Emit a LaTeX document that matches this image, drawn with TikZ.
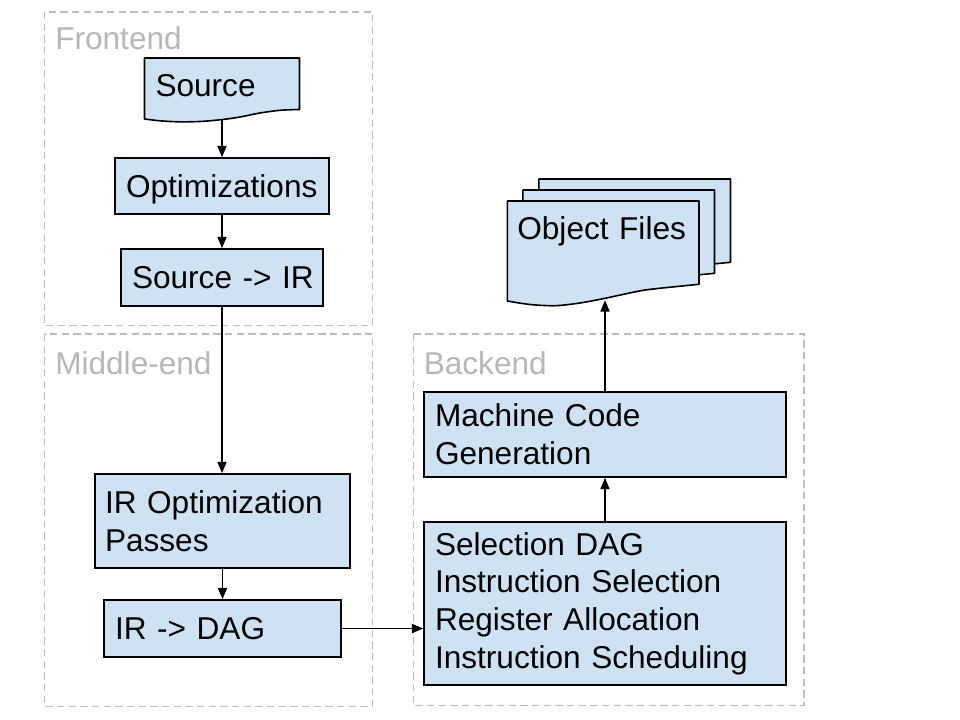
\documentclass[tikz,border=0pt]{standalone}
\usepackage{fontspec}
\setmainfont{Liberation Sans}
\usetikzlibrary{arrows.meta,backgrounds}
\definecolor{boxblue}{HTML}{CFE2F3}
\definecolor{framegray}{HTML}{BDBDBD}
\definecolor{labelgray}{HTML}{B7B7B7}
\tikzset{
  bigfont/.style={font=\fontsize{23.7pt}{28.3pt}\selectfont},
  procbox/.style={bigfont, draw=black, fill=boxblue, line width=1.2pt, rectangle,
    align=left, inner xsep=8.25pt, inner ysep=0pt},
  oneline/.style={text height=17pt, text depth=0pt},
  docnode/.style={bigfont, rectangle, draw=none, align=left, inner ysep=0pt, text height=17pt},
  docshape/.style={draw=black, fill=boxblue, line width=1.2pt, line join=round},
  groupframe/.style={draw=framegray, line width=1pt, dash pattern=on 5.5pt off 3.25pt},
  grouplabel/.style={bigfont, text=labelgray, inner sep=0pt, anchor=base west},
  conn/.style={draw=black, line width=1.1pt, -{Triangle[length=8.5pt,width=6.8pt]}}
}
\begin{document}
\begin{tikzpicture}[x=0.75pt,y=-0.75pt]
\useasboundingbox (0,0) rectangle (960,720);
\fill[white] (0,0) rectangle (960,720);

% group frames
\draw[groupframe] (44.5,12) rectangle (372.5,325.5);
\draw[groupframe] (44.5,334) rectangle (372.5,706.5);
\draw[groupframe] (413.5,334) rectangle (804,705.5);
\node[grouplabel] (felabel) at (55,50) {Frontend};
\node[grouplabel] (melabel) at (55,374) {Middle-end};
\node[grouplabel] (belabel) at (423.5,374) {Backend};

% source document shape
\draw[docshape] (144.5,58) -- (299.5,58) -- (299.5,109.5)
  -- plot[smooth] coordinates {(299.5,109.5) (280,110.3) (260,113) (240,117) (222,119.6) (200,121.5) (178,121.8) (160,120.8) (144.5,119)}
  -- cycle;
\node[docnode, inner xsep=8.25pt, text width=99.75pt, text depth=5pt,
  minimum height=46.5pt] (src) at (222,89) {\mbox{Source}};

% object files (stacked documents)
\foreach \dx/\dy in {31.5/-22, 15.5/-11, 0/0} {
  \begin{scope}[shift={(\dx,\dy)}]
  \draw[docshape] (507.3,201) -- (699,201) -- (699,284.3)
    -- plot[smooth] coordinates {(699,284.3) (675,286.7) (645,290) (625,294) (605,298.3) (580,303) (555,305.7) (530,304.5) (507.3,301)}
    -- cycle;
  \end{scope}
}
\node[docnode, inner xsep=7.5pt, text width=128.5pt, text depth=33.5pt,
  minimum height=74.25pt] (obj) at (603,250.5) {\mbox{Object Files}};

% process boxes
\node[procbox, oneline, text width=144pt, minimum height=42pt] (opt) at (222,186) {\mbox{Optimizations}};
\node[procbox, oneline, text width=135pt, minimum height=42.75pt] (s2ir) at (222,277.5) {\mbox{Source -> IR}};
\node[procbox, inner xsep=7.5pt, text width=176.25pt, minimum height=70.5pt] (irop) at (222.5,521) {\mbox{IR Optimization}\\Passes};
\node[procbox, oneline, text width=161.25pt, minimum height=42.75pt] (ir2dag) at (222.5,628.5) {\mbox{IR -> DAG}};
\node[procbox, text width=255pt, minimum height=63.75pt] (mcg) at (605,434.5) {\mbox{Machine Code}\\Generation};
\node[procbox, text width=255pt, minimum height=122.25pt] (sel) at (605,603.5)
  {\mbox{Selection DAG}\\\mbox{Instruction Selection}\\\mbox{Register Allocation}\\\mbox{Instruction Scheduling}};

% connectors
\draw[conn] (src.south) -- (src.south |- opt.north);
\draw[conn] (opt.south) -- (opt.south |- s2ir.north);
\draw[conn] (s2ir.south) -- (s2ir.south |- irop.north);
\draw[conn] (irop.south) -- (irop.south |- ir2dag.north);
\draw[conn] (ir2dag.east) -- (ir2dag.east -| sel.west);
\draw[conn] (sel.north) -- (sel.north |- mcg.south);
\draw[conn] (mcg.north) -- (mcg.north |- obj.south);
\end{tikzpicture}
\end{document}
